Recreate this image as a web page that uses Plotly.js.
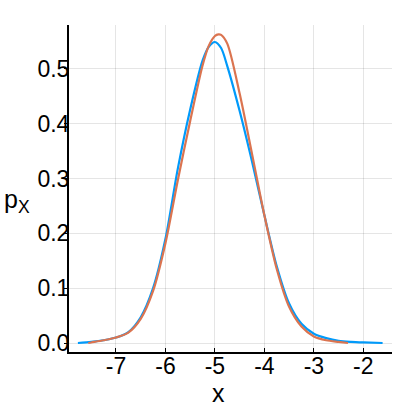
<!DOCTYPE html>
<html lang="en">
<head>
    <meta charset="UTF-8">
    <title>Density comparison</title>
    <script src="https://cdn.plot.ly/plotly-3.0.1.min.js"></script>
    <style>
        body { margin: 0; padding: 0; background: white; }
        #plot { width: 417px; height: 417px; }
    </style>
</head>
<body>
    <div id="plot"></div>

    <script>
        // blue curve (estimated density)
        const blueX = [-7.77, -7.5, -7.25, -7.0, -6.75, -6.5, -6.25, -6.0, -5.75, -5.5, -5.25, -5.125,
                       -5.0, -4.875, -4.75, -4.5, -4.25, -4.0, -3.75, -3.5, -3.25, -3.0, -2.75, -2.5,
                       -2.25, -2.0, -1.61];
        const blueY = [0.000, 0.002, 0.005, 0.010, 0.020, 0.047, 0.100, 0.190, 0.318, 0.426, 0.515, 0.540,
                       0.549, 0.538, 0.505, 0.423, 0.331, 0.233, 0.140, 0.072, 0.035, 0.017, 0.009, 0.004,
                       0.002, 0.001, 0.000];

        // orange curve
        const orangeX = [-7.56, -7.5, -7.25, -7.0, -6.75, -6.5, -6.25, -6.0, -5.75, -5.5, -5.25, -5.125,
                         -5.0, -4.93, -4.875, -4.75, -4.5, -4.25, -4.0, -3.75, -3.5, -3.25, -3.0, -2.75,
                         -2.5, -2.31];
        const orangeY = [0.000, 0.001, 0.005, 0.010, 0.019, 0.044, 0.095, 0.182, 0.297, 0.405, 0.506, 0.542,
                         0.560, 0.563, 0.562, 0.546, 0.455, 0.345, 0.233, 0.135, 0.066, 0.030, 0.012, 0.005,
                         0.002, 0.000];

        const xTicks = [-7, -6, -5, -4, -3, -2];
        const yTicks = [0.0, 0.1, 0.2, 0.3, 0.4, 0.5];
        const yTickText = ['0.0', '0.1', '0.2', '0.3', '0.4', '0.5'];

        const font = 'Liberation Sans, Arial, sans-serif';

        const traces = [
            {
                x: blueX, y: blueY, type: 'scatter', mode: 'lines',
                line: { color: '#009AFA', width: 2.2, shape: 'spline', smoothing: 0.8 },
                hoverinfo: 'skip'
            },
            {
                x: orangeX, y: orangeY, type: 'scatter', mode: 'lines',
                line: { color: '#DB7450', width: 2.2, shape: 'spline', smoothing: 0.8 },
                hoverinfo: 'skip'
            }
        ];

        const layout = {
            width: 417,
            height: 417,
            margin: { l: 69, r: 25, t: 25, b: 65 },
            paper_bgcolor: 'white',
            plot_bgcolor: 'white',
            showlegend: false,
            font: { family: font, size: 22, color: 'black' },
            xaxis: {
                range: [-7.95, -1.42],
                tickvals: xTicks,
                ticktext: xTicks.map(v => '-' + Math.abs(v)),
                ticks: 'inside',
                ticklen: 4,
                tickcolor: 'black',
                showline: true,
                linecolor: 'black',
                linewidth: 2,
                gridcolor: 'rgba(0,0,0,0.1)',
                gridwidth: 1,
                zeroline: false,
                ticklabelstandoff: -8,
                tickfont: { family: font, size: 23, color: 'black' }
            },
            yaxis: {
                range: [-0.0164, 0.58],
                tickvals: yTicks,
                ticktext: yTickText,
                ticks: 'outside',
                ticklen: 3,
                tickcolor: 'black',
                showline: true,
                linecolor: 'black',
                linewidth: 2,
                gridcolor: 'rgba(0,0,0,0.1)',
                gridwidth: 1,
                zeroline: false,
                ticklabelstandoff: -10,
                tickfont: { family: font, size: 23, color: 'black' }
            },
            annotations: [
                {
                    text: 'x', xref: 'paper', yref: 'paper',
                    x: 0.464, y: -0.125, xanchor: 'center', yanchor: 'middle',
                    showarrow: false, font: { family: font, size: 25, color: 'black' }
                },
                {
                    text: 'p<sub>X</sub>', xref: 'paper', yref: 'paper',
                    x: -0.161, y: 0.462, xanchor: 'center', yanchor: 'middle',
                    showarrow: false, font: { family: font, size: 25, color: 'black' }
                }
            ]
        };

        Plotly.newPlot('plot', traces, layout, { displayModeBar: false, staticPlot: true });
    </script>
</body>
</html>
